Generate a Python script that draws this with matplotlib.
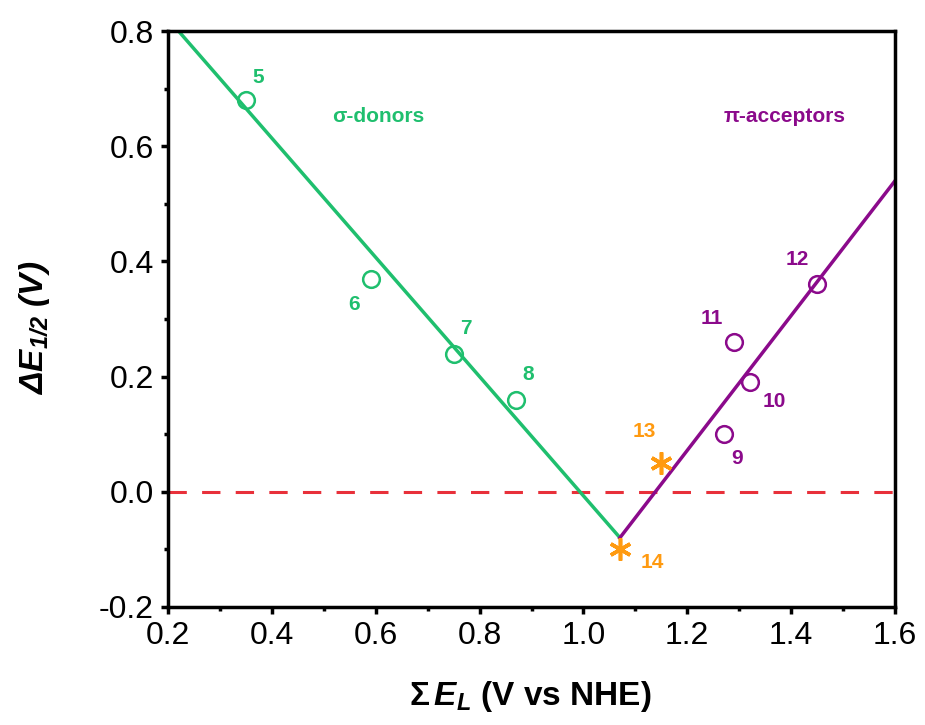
import matplotlib.pyplot as plt
import numpy as np
from matplotlib.ticker import MultipleLocator

plt.rcParams['font.family'] = ['Liberation Sans', 'DejaVu Sans']
plt.rcParams['mathtext.fontset'] = 'custom'
plt.rcParams['mathtext.rm'] = 'Liberation Sans:bold'
plt.rcParams['mathtext.it'] = 'Liberation Sans:italic'
plt.rcParams['mathtext.bf'] = 'Liberation Sans:bold:italic'

# sigma donors
don_x = [0.35, 0.59, 0.75, 0.87]
don_y = [0.68, 0.37, 0.24, 0.16]
don_lab = ['5', '6', '7', '8']
don_lab_xy = [(0.373, 0.72), (0.558, 0.326), (0.774, 0.283), (0.893, 0.204)]

# pi acceptors
acc_x = [1.27, 1.32, 1.29, 1.45]
acc_y = [0.10, 0.19, 0.26, 0.36]
acc_lab = ['9', '10', '11', '12']
acc_lab_xy = [(1.296, 0.057), (1.367, 0.156), (1.248, 0.30), (1.411, 0.404)]

# stars
star_x = [1.15, 1.07]
star_y = [0.05, -0.10]
star_lab = ['13', '14']
star_lab_xy = [(1.118, 0.104), (1.132, -0.122)]

# fit lines (slope, intercept, x range)
don_fit = (-1.035, 1.028, 0.22, 1.07)
acc_fit = (1.17, -1.332, 1.07, 1.60)

green = '#1fbf6e'
purple = '#8b0a8b'
orange = '#ff9a10'

fig = plt.figure(figsize=(9.25, 7.25), dpi=100)
ax = fig.add_axes([0.1816, 0.1628, 0.786, 0.7944])

ax.axhline(0, color='#e8303a', lw=2.2, ls=(0, (6, 5)), zorder=1)

for fit, c in [(don_fit, green), (acc_fit, purple)]:
    m, b, x0, x1 = fit
    xx = np.array([x0, x1])
    ax.plot(xx, m * xx + b, color=c, lw=2.5, zorder=2)

ax.plot(don_x, don_y, 'o', mfc='none', mec=green, ms=12, mew=1.8, zorder=3)
ax.plot(acc_x, acc_y, 'o', mfc='none', mec=purple, ms=12, mew=1.8, zorder=3)
ax.plot(star_x, star_y, marker=(6, 2, 0), ls='none', color=orange, ms=16, mew=2.6, zorder=4)

for labs, pos, c in [(don_lab, don_lab_xy, green), (acc_lab, acc_lab_xy, purple),
                     (star_lab, star_lab_xy, orange)]:
    for t, (x, y) in zip(labs, pos):
        ax.text(x, y, t, color=c, fontsize=15, fontweight='bold', ha='center', va='center')

ax.text(0.604, 0.652, 'σ-donors', color=green, fontsize=15, fontweight='bold', ha='center', va='center')
ax.text(1.388, 0.652, 'π-acceptors', color=purple, fontsize=15, fontweight='bold', ha='center', va='center')

ax.set_xlim(0.2, 1.6)
ax.set_ylim(-0.2, 0.8)
ax.xaxis.set_major_locator(MultipleLocator(0.2))
ax.xaxis.set_minor_locator(MultipleLocator(0.1))
ax.yaxis.set_major_locator(MultipleLocator(0.2))
ax.yaxis.set_minor_locator(MultipleLocator(0.1))
ax.xaxis.set_major_formatter(plt.FuncFormatter(lambda v, p: '%.1f' % v))
ax.yaxis.set_major_formatter(plt.FuncFormatter(lambda v, p: '%.1f' % v))
ax.tick_params(which='major', direction='out', length=5, width=2.5, labelsize=23, pad=5)
ax.tick_params(which='minor', direction='out', length=3, width=2.5)
for s in ax.spines.values():
    s.set_linewidth(2.5)

ax.set_xlabel(r'$\mathit{Σ}\,\mathbf{E_L}$ (V vs NHE)', fontsize=24, fontweight='bold')
ax.set_ylabel(r'$\mathbf{\Delta E_{1/2}}$ $\mathbf{(V)}$', fontsize=24, fontweight='bold')
ax.xaxis.set_label_coords(0.498, -0.125)
ax.yaxis.set_label_coords(-0.16, 0.484)

fig.savefig('out.png', dpi=100)
